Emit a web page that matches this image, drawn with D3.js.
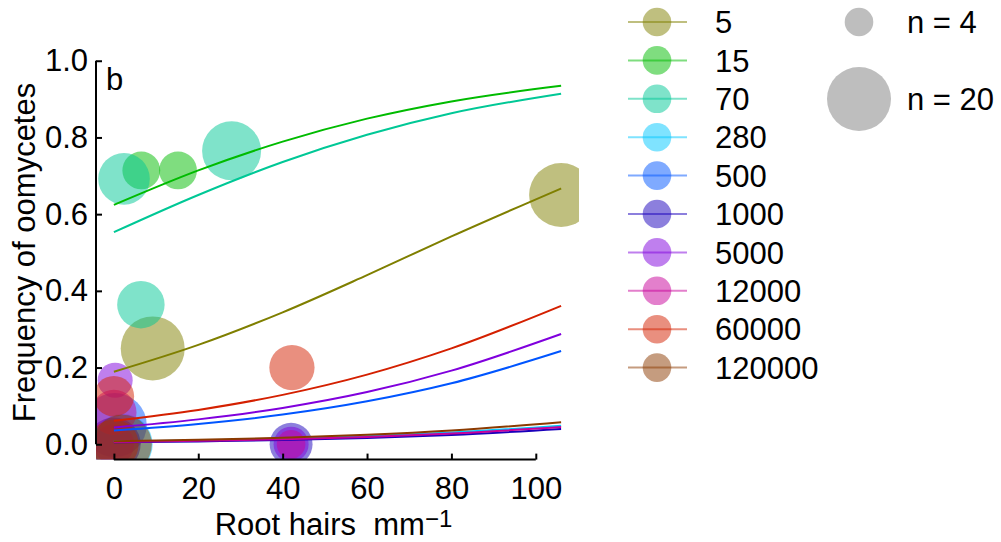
<!DOCTYPE html>
<html>
<head>
<meta charset="utf-8">
<script src="https://cdn.jsdelivr.net/npm/d3@7"></script>
<style>
  body { margin: 0; background: #fff; }
  svg { display: block; font-family: "Liberation Sans", Arial, sans-serif; }
</style>
</head>
<body>
<svg id="chart" width="1001" height="542"></svg>
<script>
// groups (legend order) and their colours
var groups = ["5", "15", "70", "280", "500", "1000", "5000", "12000", "60000", "120000"];
var colors = ["#7f7f00", "#00bb00", "#00c896", "#00c8ff", "#0055ff", "#1a00bb", "#8000dd", "#c8009a", "#d42000", "#8b3a00"];

// observed points: group index, root hairs, frequency, n
var ptGroup = [0, 0, 1, 1, 2, 2, 2, 3, 4, 5, 5, 6, 6, 6, 7, 7, 8, 8, 8, 9];
var ptX     = [9.2, 106, 6.5, 15.2, 2.4, 6.4, 27.9, 2.0, 0.2, 0, 42, 0.3, 42, 0, 0, 42, 0, 42.2, 0, 2.0];
var ptY     = [0.25, 0.65, 0.714, 0.714, 0.692, 0.364, 0.765, 0, 0.05, 0, 0, 0.167, 0, 0, 0.083, 0, 0.125, 0.2, 0, 0];
var ptN     = [20, 20, 7, 7, 13, 11, 17, 18, 20, 14, 9, 6, 6, 8, 10, 4, 8, 10, 12, 17];

// fitted curves
var curveX = [0, 20, 40, 60, 80, 106];
var curveY = [
  [0.189, 0.259, 0.344, 0.441, 0.542, 0.667],
  [0.624, 0.714, 0.789, 0.849, 0.894, 0.935],
  [0.553, 0.650, 0.736, 0.807, 0.863, 0.914],
  [0.007, 0.010, 0.0146, 0.0211, 0.0304, 0.0485],
  [0.036, 0.053, 0.0774, 0.112, 0.159, 0.243],
  [0.005, 0.0075, 0.011, 0.0164, 0.0242, 0.040],
  [0.044, 0.0649, 0.0947, 0.136, 0.192, 0.2875],
  [0.006, 0.009, 0.013, 0.019, 0.028, 0.045],
  [0.0615, 0.0896, 0.1288, 0.1816, 0.25, 0.361],
  [0.008, 0.0117, 0.017, 0.0247, 0.0358, 0.0573]
];

var xTicks = [0, 20, 40, 60, 80, 100];
var yTicks = [0, 0.2, 0.4, 0.6, 0.8, 1.0];
var sizeKey = [4, 20];

var svg = d3.select("#chart");
var fontSize = 31;

var x = d3.scaleLinear().domain([-4.24, 110.24]).range([96, 579]);
var y = d3.scaleLinear().domain([-0.04, 1.04]).range([459.6, 45.4]);
var r = d3.scaleSqrt().domain([0, 20]).range([0, 32]);

svg.append("defs").append("clipPath").attr("id", "plotclip")
  .append("rect")
  .attr("x", x.range()[0]).attr("y", y.range()[1])
  .attr("width", x.range()[1] - x.range()[0])
  .attr("height", y.range()[0] - y.range()[1]);

var plot = svg.append("g").attr("clip-path", "url(#plotclip)");

plot.selectAll("circle.pt")
  .data(ptX.map(function (d, i) { return i; }))
  .enter().append("circle")
  .attr("class", "pt")
  .attr("cx", function (i) { return x(ptX[i]); })
  .attr("cy", function (i) { return y(ptY[i]); })
  .attr("r", function (i) { return r(ptN[i]); })
  .style("fill", function (i) { return colors[ptGroup[i]]; })
  .style("fill-opacity", 0.5);

var line = d3.line()
  .x(function (d, i) { return x(curveX[i]); })
  .y(function (d) { return y(d); })
  .curve(d3.curveMonotoneX);

plot.selectAll("path.fit")
  .data(curveY)
  .enter().append("path")
  .attr("class", "fit")
  .attr("d", line)
  .style("fill", "none")
  .style("stroke", function (d, i) { return colors[i]; })
  .style("stroke-width", 2);

// axes
var yAxis = d3.axisLeft(y).tickValues(yTicks).tickFormat(d3.format(".1f"))
  .tickSizeInner(-6).tickSizeOuter(0).tickPadding(8);
var gy = svg.append("g").attr("transform", "translate(96,0)").call(yAxis);
gy.select(".domain").remove();
gy.append("line").attr("x1", 0).attr("x2", 0).attr("y1", y(0)).attr("y2", y(1))
  .style("stroke", "#000").style("stroke-width", 2);

var xAxis = d3.axisBottom(x).tickValues(xTicks).tickFormat(d3.format("d"))
  .tickSizeInner(-6).tickSizeOuter(0).tickPadding(17);
var gx = svg.append("g").attr("transform", "translate(0,459.6)").call(xAxis);
gx.select(".domain").remove();
gx.append("line").attr("x1", x(0)).attr("x2", x(100)).attr("y1", 0).attr("y2", 0)
  .style("stroke", "#000").style("stroke-width", 2);

[gx, gy].forEach(function (g) {
  g.selectAll(".tick line").style("stroke", "#000").style("stroke-width", 2);
  g.selectAll(".tick text").style("font-size", fontSize + "px").style("fill", "#000")
    .style("font-family", "Liberation Sans, Arial, sans-serif");
});

// axis titles
svg.append("text")
  .attr("transform", "translate(35," + ((y.range()[0] + y.range()[1]) / 2) + ") rotate(-90)")
  .attr("text-anchor", "middle")
  .style("font-size", fontSize + "px")
  .text("Frequency of oomycetes");

var xt = svg.append("text")
  .attr("x", (x.range()[0] + x.range()[1]) / 2 - 4)
  .attr("y", 535)
  .attr("text-anchor", "middle")
  .style("font-size", fontSize + "px");
xt.append("tspan").text("Root hairs\u00a0\u00a0mm");
xt.append("tspan").attr("dy", -8).style("font-size", "24px").text("\u22121");

svg.append("text").attr("x", 106).attr("y", 90)
  .style("font-size", fontSize + "px").text("b");

// legend for groups
var legend = svg.append("g");
var rows = legend.selectAll("g.row").data(groups).enter().append("g")
  .attr("class", "row")
  .attr("transform", function (d, i) { return "translate(0," + (22 + i * 38.4) + ")"; });
rows.append("circle").attr("cx", 657).attr("cy", 0).attr("r", r(4))
  .style("fill", function (d, i) { return colors[i]; }).style("fill-opacity", 0.5);
rows.append("line").attr("x1", 628).attr("x2", 687).attr("y1", 0).attr("y2", 0)
  .style("stroke", function (d, i) { return colors[i]; })
  .style("stroke-opacity", 0.5).style("stroke-width", 2);
rows.append("text").attr("x", 715).attr("y", 0).attr("dy", "0.36em")
  .style("font-size", fontSize + "px").text(function (d) { return d; });

// legend for sample size
var sizeRows = svg.append("g").selectAll("g").data(sizeKey).enter().append("g")
  .attr("transform", function (d, i) { return "translate(0," + (22 + i * 77) + ")"; });
sizeRows.append("circle").attr("cx", 859).attr("cy", 0).attr("r", function (d) { return r(d); })
  .style("fill", "#bebebe");
sizeRows.append("text").attr("x", 907).attr("y", 0).attr("dy", "0.36em")
  .style("font-size", fontSize + "px").text(function (d) { return "n = " + d; });
</script>
</body>
</html>
